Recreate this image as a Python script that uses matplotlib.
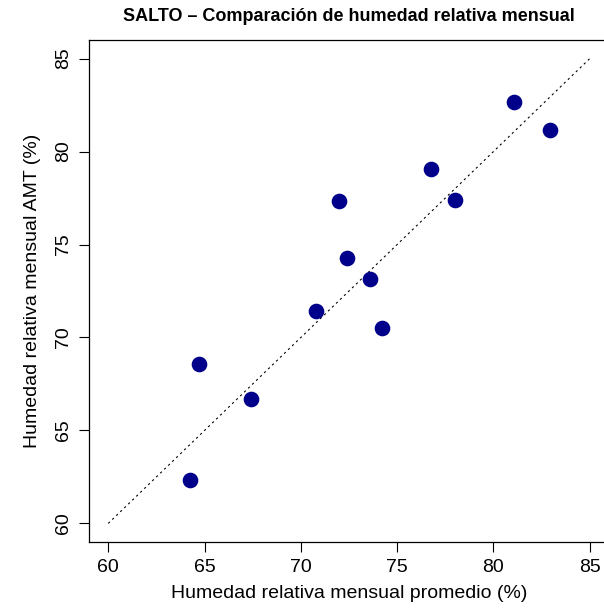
import matplotlib
matplotlib.use('Agg')
from matplotlib import pyplot as plt

plt.rcParams['font.family'] = ['Liberation Sans', 'DejaVu Sans']

hr_promedio = [64.25, 64.72, 67.42, 70.79, 71.98, 72.40, 73.59, 74.21, 76.75, 78.00, 81.06, 82.93]
hr_amt = [62.35, 68.55, 66.70, 71.45, 77.35, 74.25, 73.15, 70.50, 79.05, 77.40, 82.65, 81.15]
ticks = [60, 65, 70, 75, 80, 85]

fig = plt.figure(figsize=(6.04, 6.12), dpi=100)
ax = fig.add_axes([89/604, 70/612, 520/604, 502/612])

ax.plot([60, 85], [60, 85], color='black', linestyle=(0, (2, 3)), linewidth=0.8)
ax.scatter(hr_promedio, hr_amt, s=105, color='#00008B', zorder=3)

ax.set_xlim(59, 86)
ax.set_ylim(59, 86)
ax.set_xticks(ticks)
ax.set_yticks(ticks)
ax.tick_params(direction='out', length=7, width=0.8, labelsize=14, pad=5)
for lab in ax.get_yticklabels():
    lab.set_rotation(90)
    lab.set_va('center')
for s in ax.spines.values():
    s.set_linewidth(0.9)
ax.spines['right'].set_visible(False)

ax.set_xlabel('Humedad relativa mensual promedio (%)', fontsize=14, labelpad=7)
ax.set_ylabel('Humedad relativa mensual AMT (%)', fontsize=14, labelpad=10)
ax.set_title('SALTO \u2013 Comparación de humedad relativa mensual', fontsize=13,
             fontweight='bold', pad=14)

fig.savefig('out.png', dpi=100)
